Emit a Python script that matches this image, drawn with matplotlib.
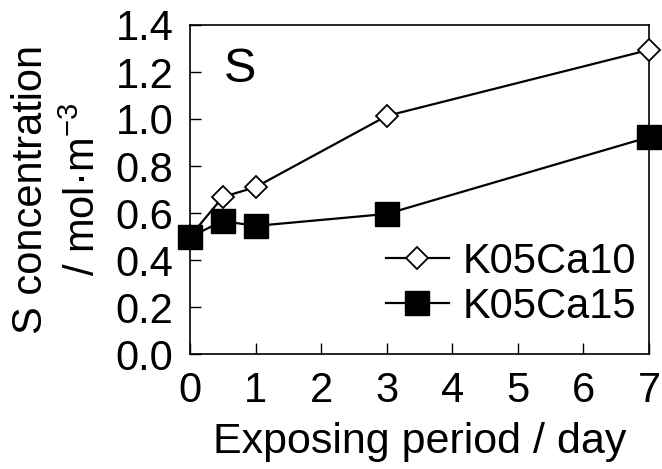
import matplotlib.pyplot as plt

plt.rcParams['font.family'] = ['Liberation Sans', 'DejaVu Sans']
plt.rcParams['mathtext.fontset'] = 'custom'
plt.rcParams['mathtext.rm'] = 'Liberation Sans'
plt.rcParams['mathtext.default'] = 'regular'

days = [0, 0.5, 1, 3, 7]
k05ca10 = [0.50, 0.668, 0.71, 1.013, 1.294]
k05ca15 = [0.498, 0.566, 0.545, 0.596, 0.923]
xticks = [0, 1, 2, 3, 4, 5, 6, 7]
yticks = [0.0, 0.2, 0.4, 0.6, 0.8, 1.0, 1.2, 1.4]

fig = plt.figure(figsize=(6.62, 4.69), dpi=100)
ax = fig.add_axes([190/662, 1 - 354/469, (649-190)/662, (354-25)/469])

ax.plot(days, k05ca10, color='black', lw=1.6, marker='D', ms=11.5,
        mfc='white', mec='black', mew=1.3, label='K05Ca10', zorder=3,
        clip_on=False)
ax.plot(days, k05ca15, color='black', lw=1.6, marker='s', ms=17,
        mfc='black', mec='black', label='K05Ca15', zorder=4, clip_on=False)

ax.set_xlim(0, 7)
ax.set_ylim(0, 1.4)
ax.set_xticks(xticks)
ax.set_yticks(yticks)
ax.set_yticklabels([f"{v:.1f}" for v in yticks])
ax.tick_params(direction='in', length=8, width=1, labelsize=30, pad=12)
for s in ax.spines.values():
    s.set_linewidth(1.2)

ax.text(0.76, 1.21, 'S', fontsize=35, ha='center', va='center')

ax.set_xlabel('Exposing period / day', fontsize=31, labelpad=8)
ax.set_ylabel('S concentration\n/ mol·m$^{-3}$', fontsize=30,
              linespacing=1.4)
ax.yaxis.set_label_coords(-(190-104)/459, 0.5)

leg = ax.legend(loc='center left', bbox_to_anchor=((386-190)/459, (354-284)/329),
                frameon=False, fontsize=30, handlelength=1.5, handletextpad=0.33,
                labelspacing=0.12, borderaxespad=0, borderpad=0)

fig.savefig('out.png', dpi=100)
